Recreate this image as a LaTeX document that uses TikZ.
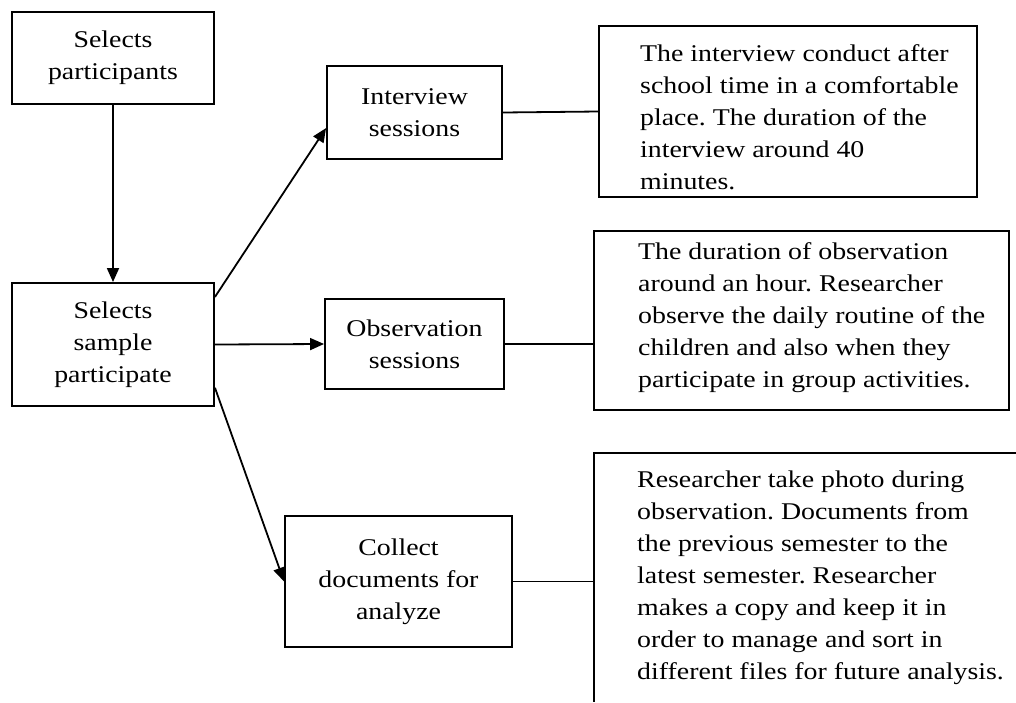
\documentclass[tikz,border=0pt]{standalone}
\usepackage{fontspec}
\setmainfont[FakeStretch=1.16]{Liberation Serif}
\usetikzlibrary{arrows.meta}
\frenchspacing
\newcommand\leftlines[1]{\vtop{\halign{##\hfil\cr #1\crcr}}}
\tikzset{
  boxnode/.style={draw, line width=1.9pt, rectangle, inner sep=0pt, align=center,
    font=\fontsize{24}{32}\selectfont},
  plainnode/.style={inner sep=0pt, rectangle},
  desc/.style={inner sep=0pt, anchor=base west, font=\fontsize{24}{32}\selectfont},
  arr/.style={line width=1.8pt, -{Triangle[length=14pt,width=12pt]}},
  link/.style={line width=1.8pt}
}
\begin{document}
\begin{tikzpicture}[x=1pt,y=-1pt]
\useasboundingbox (0,0) rectangle (1016,702);
% left column
\node[boxnode, minimum width=202pt, minimum height=92pt] (A) at (113,58) {Selects\\participants};
\node[boxnode, minimum width=202pt, minimum height=123pt] (B) at (113,344.5) {Selects\\sample\\participate};
% middle column
\node[boxnode, minimum width=175pt, minimum height=93pt] (C) at (414.5,112.5) {Interview\\sessions};
\node[boxnode, minimum width=179pt, minimum height=90pt] (D) at (414.5,344) {Observation\\sessions};
\node[boxnode, minimum width=227pt, minimum height=131pt] (H) at (398.5,581.5) {Collect\\documents for\\analyze};
% right column boxes
\node[boxnode, minimum width=378pt, minimum height=171pt] (E) at (788,111.5) {};
\node[boxnode, minimum width=415pt, minimum height=179pt] (F) at (801.5,320.5) {};
\node[plainnode, minimum width=422pt, minimum height=249pt, anchor=north west] (G) at (594,453) {};
\draw[link] (G.north east) -- (G.north west) -- (G.south west);
% right column texts
\node[desc] (Et) at (640,61) {\leftlines{The interview conduct after\cr school time in a comfortable\cr place. The duration of the\cr interview around 40\cr minutes.}};
\node[desc] (Ft) at (638,259) {\leftlines{The duration of observation\cr around an hour. Researcher\cr observe the daily routine of the\cr children and also when they\cr participate in group activities.}};
\node[desc] (Gt) at (637,487) {\leftlines{Researcher take photo during\cr observation. Documents from\cr the previous semester to the\cr latest semester. Researcher\cr makes a copy and keep it in\cr order to manage and sort in\cr different files for future analysis.}};
% connectors
\draw[arr] (A.south) -- (B.north);
\draw[arr] (B.25) -- (C.190);
\draw[arr] (B.east) -- (D.west);
\draw[arr] (B.337) -- (H.west);
\draw[link] (C.east) -- (E.west);
\draw[link] (D.east) -- (D.east -| F.west);
\draw[link] (H.east) -- (H.east -| G.west);
\end{tikzpicture}
\end{document}
